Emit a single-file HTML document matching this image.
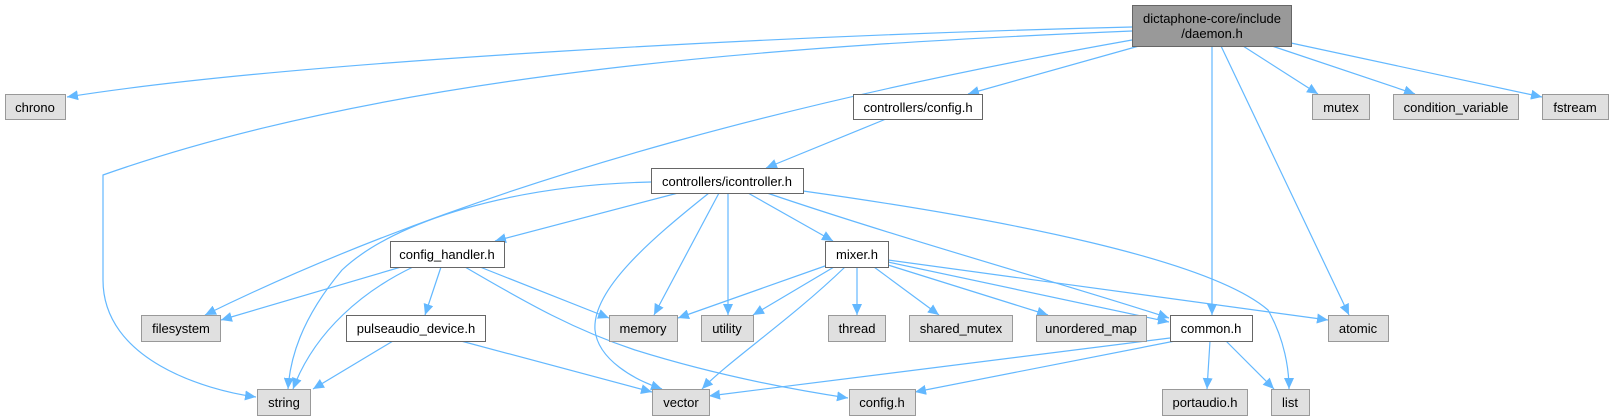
<!DOCTYPE html>
<html><head><meta charset="utf-8"><style>
html,body{margin:0;padding:0;background:#fff;}
svg{display:block;}
text{font-family:"Liberation Sans",Arial,sans-serif;font-size:13px;fill:#000;}
</style></head><body>
<svg width="1614" height="420" viewBox="0 0 1614 420" xmlns="http://www.w3.org/2000/svg">
<defs>
<marker id="a" markerWidth="12" markerHeight="10" refX="11" refY="5" orient="auto" markerUnits="userSpaceOnUse">
<path d="M0,0 L11,5 L0,10 z" fill="#63b8ff"/>
</marker>
</defs>
<g fill="none" stroke="#63b8ff" stroke-width="1.2" marker-end="url(#a)">
<path d="M1132,27 C800,35 300,60 67,97"/>
<path d="M1132,31 C800,45 400,70 103,175 L103,280 C103,360 205,390 256,397"/>
<path d="M1132,40 C850,90 500,170 205,315"/>
<path d="M1139,46 L968,94"/>
<path d="M1212,46 L1212,315"/>
<path d="M1221,46 L1349,315"/>
<path d="M1243,46 L1318,94"/>
<path d="M1272,46 L1415,94"/>
<path d="M1291,43 L1542,97"/>
<path d="M886,119 L766,168"/>
<path d="M651,182 C515,185 395,220 342,270 C300,320 290,360 288,389"/>
<path d="M678,193 L495,241"/>
<path d="M719,193 L654,315"/>
<path d="M728,193 L728,315"/>
<path d="M709,193 C650,240 592,290 595,330 C598,360 635,380 662,389"/>
<path d="M748,193 L833,241"/>
<path d="M767,193 C905,240 1085,290 1169,318"/>
<path d="M803,191 C1010,220 1210,260 1268,310 C1285,340 1289,370 1289,389"/>
<path d="M401,267 L221,320"/>
<path d="M413,267 C365,290 315,330 293,389"/>
<path d="M441,267 L425,315"/>
<path d="M480,267 L609,318"/>
<path d="M465,267 C530,305 575,330 635,350 C715,375 795,390 848,398"/>
<path d="M393,341 L313,389"/>
<path d="M461,341 L652,392"/>
<path d="M825,266 L678,318"/>
<path d="M834,267 L753,315"/>
<path d="M845,267 C790,320 730,360 702,389"/>
<path d="M857,267 L857,315"/>
<path d="M874,267 L939,315"/>
<path d="M888,265 L1048,315"/>
<path d="M888,262 L1169,322"/>
<path d="M888,260 L1328,320"/>
<path d="M1170,338 L709,396"/>
<path d="M1175,341 L915,392"/>
<path d="M1210,341 L1207,389"/>
<path d="M1226,341 L1274,389"/>
</g>
<g stroke-width="1">
<rect x="1132.5" y="5.5" width="159" height="41" fill="#999" stroke="#666"/>
<rect x="5.5" y="94.5" width="60" height="25" fill="#e0e0e0" stroke="#999"/>
<rect x="853.5" y="94.5" width="129" height="25" fill="#fff" stroke="#666"/>
<rect x="1312.5" y="94.5" width="57" height="25" fill="#e0e0e0" stroke="#999"/>
<rect x="1393.5" y="94.5" width="125" height="25" fill="#e0e0e0" stroke="#999"/>
<rect x="1542.5" y="94.5" width="66" height="25" fill="#e0e0e0" stroke="#999"/>
<rect x="651.5" y="168.5" width="152" height="25" fill="#fff" stroke="#666"/>
<rect x="390.5" y="241.5" width="114" height="26" fill="#fff" stroke="#666"/>
<rect x="825.5" y="241.5" width="63" height="26" fill="#fff" stroke="#666"/>
<rect x="141.5" y="315.5" width="79" height="26" fill="#e0e0e0" stroke="#999"/>
<rect x="346.5" y="315.5" width="139" height="26" fill="#fff" stroke="#666"/>
<rect x="609.5" y="315.5" width="68" height="26" fill="#e0e0e0" stroke="#999"/>
<rect x="701.5" y="315.5" width="52" height="26" fill="#e0e0e0" stroke="#999"/>
<rect x="828.5" y="315.5" width="57" height="26" fill="#e0e0e0" stroke="#999"/>
<rect x="909.5" y="315.5" width="103" height="26" fill="#e0e0e0" stroke="#999"/>
<rect x="1036.5" y="315.5" width="110" height="26" fill="#e0e0e0" stroke="#999"/>
<rect x="1170.5" y="315.5" width="82" height="26" fill="#fff" stroke="#666"/>
<rect x="1328.5" y="315.5" width="60" height="26" fill="#e0e0e0" stroke="#999"/>
<rect x="257.5" y="389.5" width="53" height="26" fill="#e0e0e0" stroke="#999"/>
<rect x="652.5" y="389.5" width="57" height="26" fill="#e0e0e0" stroke="#999"/>
<rect x="849.5" y="389.5" width="66" height="26" fill="#e0e0e0" stroke="#999"/>
<rect x="1162.5" y="389.5" width="85" height="26" fill="#e0e0e0" stroke="#999"/>
<rect x="1271.5" y="389.5" width="38" height="26" fill="#e0e0e0" stroke="#999"/>
</g>
<g text-anchor="middle">
<text x="1212" y="23">dictaphone-core/include</text>
<text x="1212" y="38">/daemon.h</text>
<text x="35" y="112">chrono</text>
<text x="918" y="112">controllers/config.h</text>
<text x="1341" y="112">mutex</text>
<text x="1456" y="112">condition_variable</text>
<text x="1575" y="112">fstream</text>
<text x="727" y="186">controllers/icontroller.h</text>
<text x="447" y="259">config_handler.h</text>
<text x="857" y="259">mixer.h</text>
<text x="181" y="333">filesystem</text>
<text x="416" y="333">pulseaudio_device.h</text>
<text x="643" y="333">memory</text>
<text x="727" y="333">utility</text>
<text x="857" y="333">thread</text>
<text x="961" y="333">shared_mutex</text>
<text x="1091" y="333">unordered_map</text>
<text x="1211" y="333">common.h</text>
<text x="1358" y="333">atomic</text>
<text x="284" y="407">string</text>
<text x="681" y="407">vector</text>
<text x="882" y="407">config.h</text>
<text x="1205" y="407">portaudio.h</text>
<text x="1290" y="407">list</text>
</g>
</svg>
</body></html>
